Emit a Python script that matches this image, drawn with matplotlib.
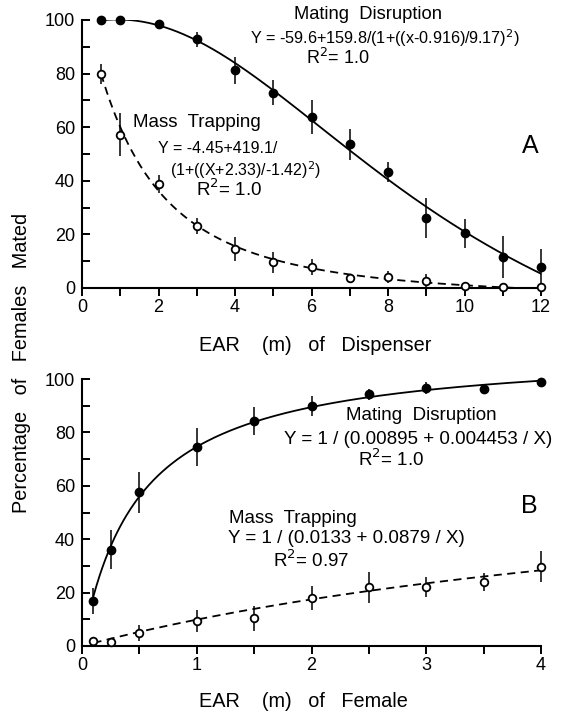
import numpy as np
import matplotlib.pyplot as plt
from matplotlib.ticker import MultipleLocator

plt.rcParams['font.family'] = ['Liberation Sans', 'DejaVu Sans']

# Painel A - EAR do dispensador
xa = [0.5, 1, 2, 3, 4, 5, 6, 7, 8, 9, 10, 11, 12]
md_a = [100, 100, 98.5, 92.9, 81.2, 72.9, 63.9, 53.6, 43.2, 26.0, 20.4, 11.6, 7.8]
md_a_err = [0, 0, 1.4, 2.8, 5.0, 4.7, 6.4, 5.8, 3.8, 7.5, 5.4, 7.9, 6.8]
mt_a = [79.9, 57.2, 38.7, 23.1, 14.6, 9.6, 7.8, 3.6, 4.1, 2.6, 0.9, 0.5, 0.3]
mt_a_err = [3.7, 8.0, 3.4, 3.1, 4.4, 4.0, 3.0, 1.5, 2.2, 2.5, 1.0, 0.5, 0.8]

# Painel B - EAR da femea
xb = [0.1, 0.25, 0.5, 1.0, 1.5, 2.0, 2.5, 3.0, 3.5, 4.0]
md_b = [16.9, 36.1, 57.6, 74.5, 84.3, 90.0, 94.3, 96.5, 96.3, 98.8]
md_b_err = [5.0, 7.4, 7.7, 7.0, 5.3, 3.8, 2.0, 2.3, 1.7, 0]
mt_b = [2.0, 1.6, 5.0, 9.4, 10.4, 18.1, 22.0, 22.1, 23.9, 29.7]
mt_b_err = [1.0, 1.0, 3.0, 4.0, 4.7, 4.5, 5.9, 3.6, 3.4, 5.9]

# Parametros dos ajustes (das equacoes do grafico)
md_a_par = [-59.6, 159.8, 0.916, 9.17]
mt_a_par = [-4.45, 419.1, -2.33, -1.42]
md_b_par = [0.00895, 0.004453]
mt_b_par = [0.0133, 0.0879]


def lorentz(x, p):
    return p[0] + p[1] / (1 + ((x - p[2]) / p[3])**2)


def hiperbole(x, p):
    return 1 / (p[0] + p[1] / x)


fig = plt.figure(figsize=(5.67, 7.13), dpi=100)
axA = fig.add_axes([82/567, 1-288/713, 459/567, 268/713])
axB = fig.add_axes([82/567, 1-646/713, 459/567, 267/713])

fs_tick = 13
fs_txt = 13.5
fs_lab = 14.3


def estilo(ax):
    for s in ['top', 'right']:
        ax.spines[s].set_visible(False)
    for s in ['left', 'bottom']:
        ax.spines[s].set_linewidth(1.5)
    ax.tick_params(axis='x', which='both', direction='out', length=6, width=1.4,
                   labelsize=fs_tick, pad=2)
    ax.tick_params(axis='y', which='both', direction='in', length=6, width=1.4,
                   labelsize=fs_tick, pad=5)
    ax.set_ylim(0, 100)
    ax.yaxis.set_major_locator(MultipleLocator(20))
    ax.yaxis.set_minor_locator(MultipleLocator(10))


def pontos(ax, x, y, e, cheio):
    ax.errorbar(x, y, yerr=e, fmt='none', ecolor='black', elinewidth=1.1,
                capsize=0, clip_on=False, zorder=3)
    if cheio:
        ax.plot(x, y, 'o', color='black', ms=6, clip_on=False, zorder=4)
    else:
        ax.plot(x, y, 'o', mfc='white', mec='black', mew=1.3, ms=5.5,
                clip_on=False, zorder=4)


# ---- Painel A ----
estilo(axA)
axA.set_xlim(0, 12)
axA.xaxis.set_major_locator(MultipleLocator(2))
axA.xaxis.set_minor_locator(MultipleLocator(1))

xf = np.linspace(0.5, 12, 300)
axA.plot(xf, lorentz(xf, md_a_par), color='black', lw=1.3)
axA.plot(xf, lorentz(xf, mt_a_par), color='black', lw=1.3, dashes=(4.5, 3))
pontos(axA, xa, md_a, md_a_err, True)
pontos(axA, xa, mt_a, mt_a_err, False)

axA.text(7.48, 101.9, 'Mating  Disruption', ha='center', va='center', fontsize=13.2)
axA.text(7.92, 93.1, 'Y = -59.6+159.8/(1+((x-0.916)/9.17)$^2$)',
         ha='center', va='center', fontsize=11.7)
axA.text(6.68, 85.8, 'R$^2$= 1.0', ha='center', va='center', fontsize=13)
axA.text(11.71, 52.8, 'A', ha='center', va='center', fontsize=18)
axA.text(3.0, 61.9, 'Mass  Trapping', ha='center', va='center', fontsize=fs_txt)
axA.text(2.0, 51.9, 'Y = -4.45+419.1/', ha='left', va='center', fontsize=11.5)
axA.text(2.3, 44.0, '(1+((X+2.33)/-1.42)$^2$)', ha='left', va='center', fontsize=11.5)
axA.text(3.85, 36.75, 'R$^2$= 1.0', ha='center', va='center', fontsize=fs_txt)
axA.text(0.255, -0.216, 'EAR    (m)   of   Dispenser', transform=axA.transAxes,
         ha='left', va='center', fontsize=fs_lab)

# ---- Painel B ----
estilo(axB)
axB.set_xlim(0, 4)
axB.xaxis.set_major_locator(MultipleLocator(1))
axB.xaxis.set_minor_locator(MultipleLocator(0.5))

xg = np.linspace(0.1, 4, 300)
axB.plot(xg, hiperbole(xg, md_b_par), color='black', lw=1.3)
axB.plot(xg, hiperbole(xg, mt_b_par), color='black', lw=1.3, dashes=(4.5, 3))
pontos(axB, xb, md_b, md_b_err, True)
pontos(axB, xb, mt_b, mt_b_err, False)

axB.text(2.96, 86.5, 'Mating  Disruption', ha='center', va='center', fontsize=fs_txt)
axB.text(2.925, 77.3, 'Y = 1 / (0.00895 + 0.004453 / X)', ha='center', va='center',
         fontsize=fs_txt)
axB.text(2.69, 69.8, 'R$^2$= 1.0', ha='center', va='center', fontsize=fs_txt)
axB.text(3.90, 52.6, 'B', ha='center', va='center', fontsize=18)
axB.text(1.834, 47.8, 'Mass  Trapping', ha='center', va='center', fontsize=fs_txt)
axB.text(2.307, 40.3, 'Y = 1 / (0.0133 + 0.0879 / X)', ha='center', va='center',
         fontsize=fs_txt)
axB.text(1.994, 32.0, 'R$^2$= 0.97', ha='center', va='center', fontsize=fs_txt)
axB.text(0.255, -0.206, 'EAR    (m)   of   Female', transform=axB.transAxes,
         ha='left', va='center', fontsize=fs_lab)

fig.text(22/567, 1-363/713, 'Percentage   of   Females   Mated', rotation=90,
         ha='center', va='center', fontsize=fs_lab)

plt.savefig('out.png', dpi=100)
